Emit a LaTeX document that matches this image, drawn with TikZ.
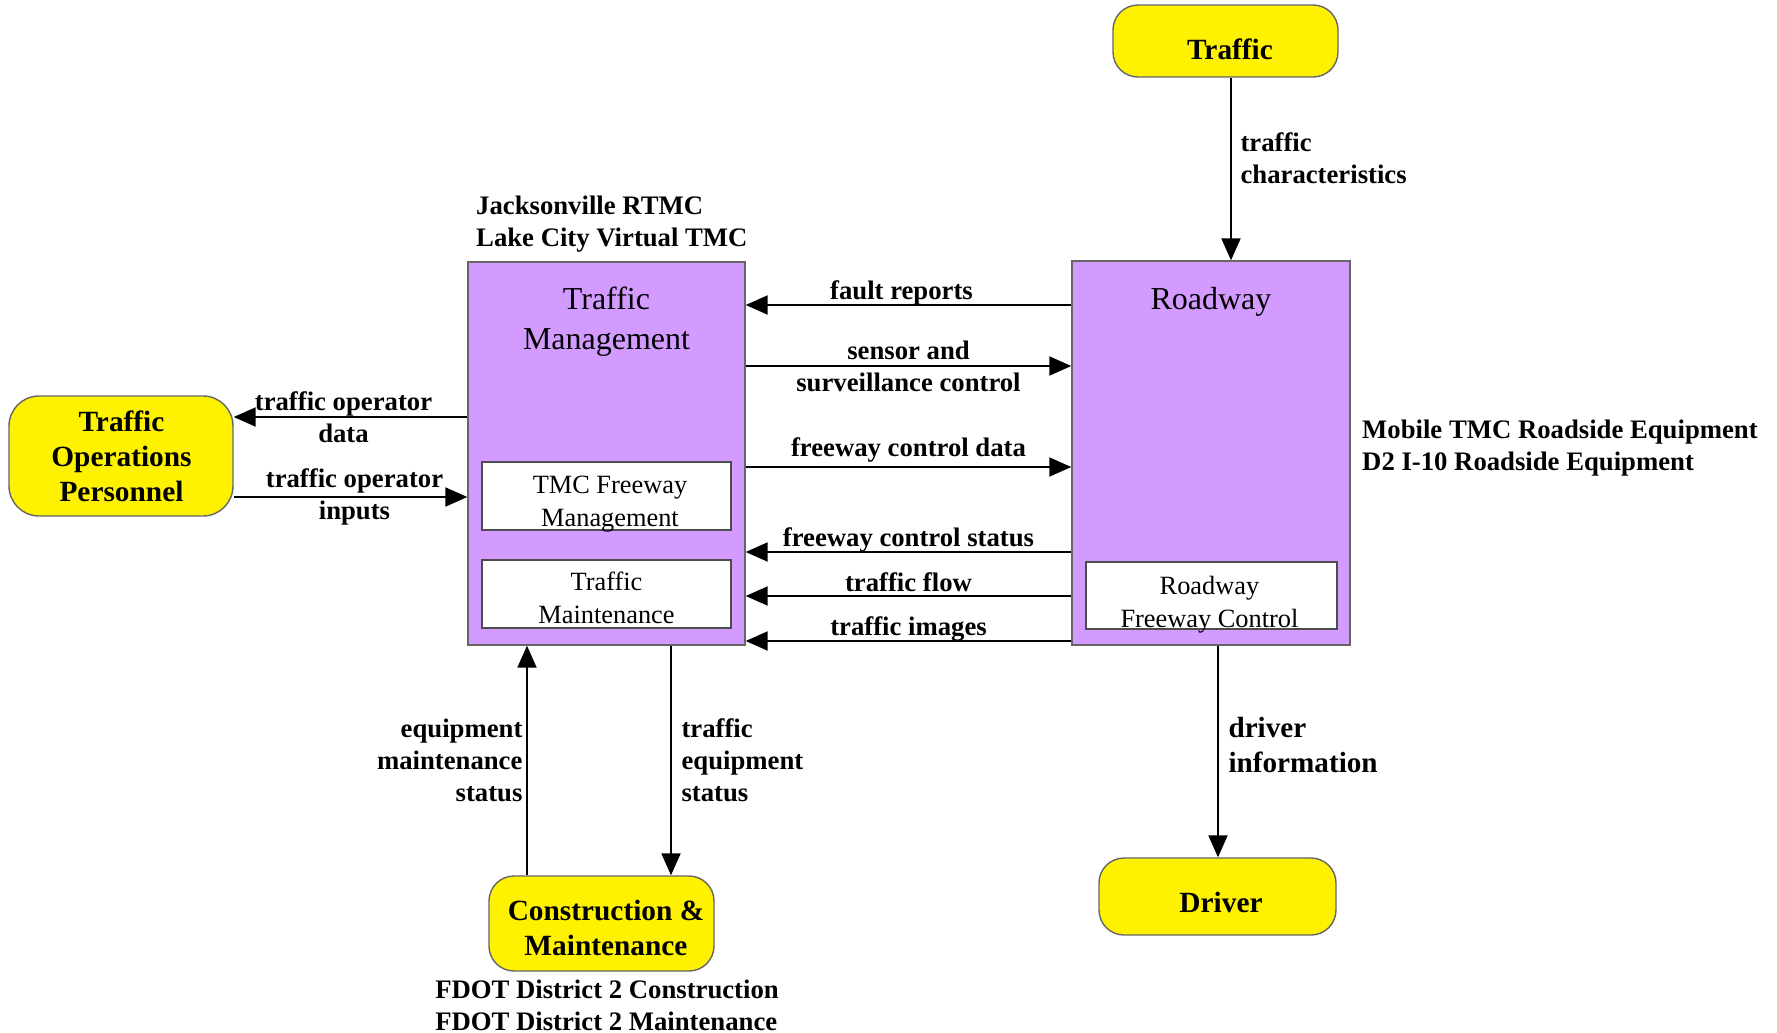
\documentclass[tikz,border=0pt]{standalone}
\usepackage{fontspec}
\setmainfont{Liberation Serif}
\usetikzlibrary{arrows.meta}
\definecolor{sysviolet}{RGB}{211,155,255}

\begin{document}
\begin{tikzpicture}[
  ext/.style={draw=black!60, fill=yellow, rounded corners=2.5mm, inner sep=0pt},
  exttext/.style={align=center, inner sep=0pt, font=\bfseries\fontsize{8.35}{10}\selectfont},
  sys/.style={draw=black!60, fill=sysviolet, inner sep=0pt},
  sub/.style={draw=black!70, fill=white, inner sep=0pt},
  subtext/.style={align=center, inner sep=0pt, font=\fontsize{7.5}{9.4}\selectfont},
  title/.style={align=center, font=\fontsize{9.1}{11.4}\selectfont},
  lbl/.style={align=center, inner sep=1pt, font=\bfseries\fontsize{7.6}{9.1}\selectfont},
  flow/.style={-{Triangle[length=2.2mm,width=1.9mm]}, line width=0.6pt}]

\useasboundingbox (0,0) rectangle (17.77,-10.33);

% Traffic management architecture flows.

\node[sys, minimum width=2.77cm, minimum height=3.83cm] (tm) at (6.065,-4.535) {};
\node[sys, minimum width=2.78cm, minimum height=3.84cm] (rw) at (12.11,-4.53) {};
\node[title] (tmtitle) at (6.065,-3.22) {Traffic\\Management};
\node[title] (rwtitle) at (12.11,-3.015) {Roadway};

\node[sub, minimum width=2.49cm, minimum height=0.68cm] (tmf) at (6.065,-4.96) {};
\node[subtext] (tmftext) at (6.10,-5.04) {TMC Freeway\\Management};
\node[sub, minimum width=2.49cm, minimum height=0.68cm] (tmm) at (6.065,-5.94) {};
\node[subtext] (tmmtext) at (6.065,-5.98) {Traffic\\Maintenance};
\node[sub, minimum width=2.51cm, minimum height=0.67cm] (rfc) at (12.115,-5.955) {};
\node[subtext] (rfctext) at (12.095,-6.05) {Roadway\\Freeway Control};

\node[ext, minimum width=2.25cm, minimum height=0.72cm] (traffic) at (12.255,-0.41) {};
\node[exttext] (traffictext) at (12.30,-0.49) {Traffic};
\node[ext, minimum width=2.24cm, minimum height=1.20cm, rounded corners=3mm] (top) at (1.21,-4.56) {};
\node[exttext] (toptext) at (1.215,-4.56) {Traffic\\Operations\\Personnel};
\node[ext, minimum width=2.25cm, minimum height=0.95cm] (cm) at (6.015,-9.235) {};
\node[exttext] (cmtext) at (6.06,-9.28) {Construction \&\\Maintenance};
\node[ext, minimum width=2.37cm, minimum height=0.77cm] (driver) at (12.175,-8.965) {};
\node[exttext] (drivertext) at (12.21,-9.02) {Driver};

\node[lbl, align=left, anchor=west] (tmloc) at (4.72,-2.245) {Jacksonville RTMC\\Lake City Virtual TMC};
\node[lbl, align=left, anchor=west] (rwloc) at (13.58,-4.48) {Mobile TMC Roadside Equipment\\D2 I-10 Roadside Equipment};
\node[lbl, align=left] (cmloc) at (6.07,-10.05) {FDOT District 2 Construction\\FDOT District 2 Maintenance};

\draw[flow] (traffic.south -| 12.31,0) -- node[lbl, right, align=left, xshift=0.5mm, pos=0.44] {traffic\\characteristics} (rw.north -| 12.31,0);

\draw[flow] (rw.west |- 0,-3.05) -- node[lbl, above, xshift=-0.7mm, yshift=-0.45mm] {fault reports} (tm.east |- 0,-3.05);
\draw[flow] (tm.east |- 0,-3.66) -- node[lbl] {sensor and\\surveillance control} (rw.west |- 0,-3.66);
\draw[flow] (tm.east |- 0,-4.67) -- node[lbl, above] {freeway control data} (rw.west |- 0,-4.67);
\draw[flow] (rw.west |- 0,-5.52) -- node[lbl, above, yshift=-0.45mm] {freeway control status} (tm.east |- 0,-5.52);
\draw[flow] (rw.west |- 0,-5.96) -- node[lbl, above] {traffic flow} (tm.east |- 0,-5.96);
\draw[flow] (rw.west |- 0,-6.41) -- node[lbl, above, yshift=-0.45mm] {traffic images} (tm.east |- 0,-6.41);

\draw[flow] (tm.west |- 0,-4.17) -- node[lbl, xshift=-0.7mm] {traffic operator\\data} (top.east |- 0,-4.17);
\draw[flow] (top.east |- 0,-4.97) -- node[lbl, xshift=0.4mm] {traffic operator\\inputs} (tm.west |- 0,-4.97);

\draw[flow] (cm.north -| 5.27,0) -- node[lbl, left, align=right] {equipment\\maintenance\\status} (tm.south -| 5.27,0);
\draw[flow] (tm.south -| 6.71,0) -- node[lbl, right, align=left, xshift=0.6mm] {traffic\\equipment\\status} (cm.north -| 6.71,0);

\draw[flow] (rw.south -| 12.18,0) -- node[lbl, right, align=left, xshift=0.6mm, yshift=0.65mm, font=\bfseries\fontsize{8.3}{10.2}\selectfont] {driver\\information} (driver.north -| 12.18,0);

\end{tikzpicture}
\end{document}
